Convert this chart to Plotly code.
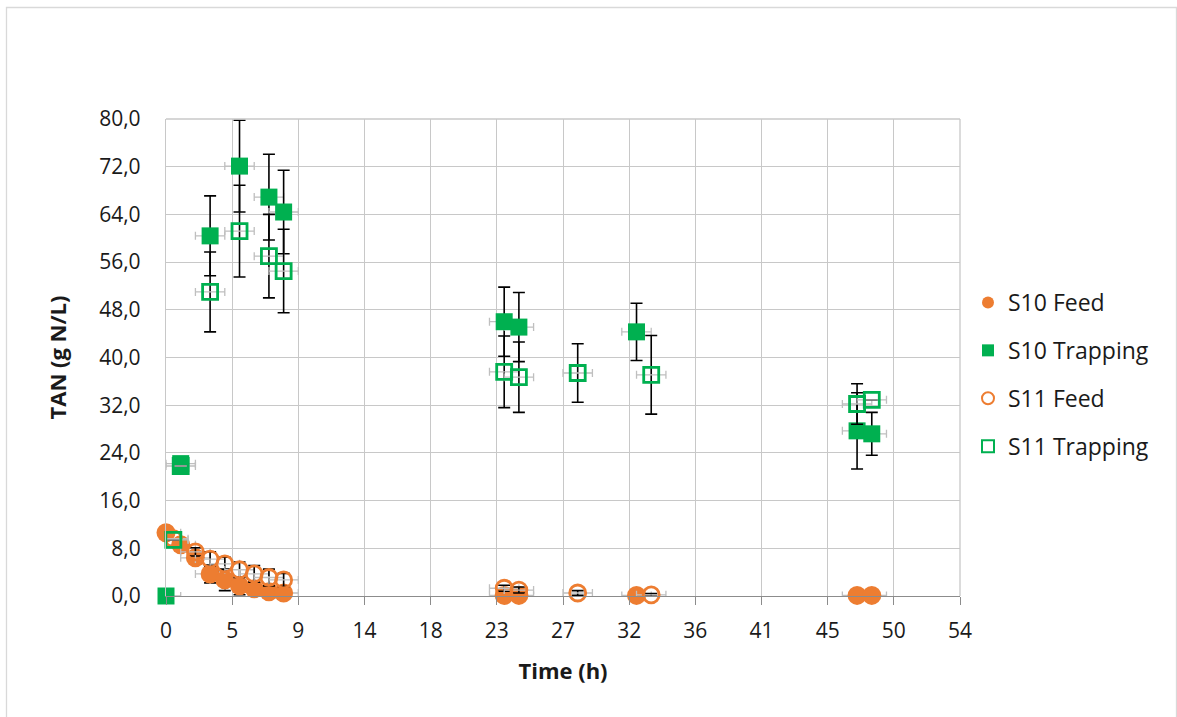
import plotly.graph_objects as go

# ---------------- data ----------------
s10_feed_t = [0, 1, 2, 3, 4, 5, 6, 7, 8, 23, 24, 32, 47, 48]
s10_feed_y = [10.6, 8.6, 6.4, 3.7, 2.7, 1.7, 1.2, 0.7, 0.5, 0.1, 0.1, 0.1, 0.1, 0.1]
s10_feed_e = [0.4, 0.4, 0.8, 1.5, 1.8, 1.5, 1.2, 0.8, 0.5, 0.2, 0.2, 0.1, 0.1, 0.1]

s10_trap_t = [0, 1, 3, 5, 7, 8, 23, 24, 32, 47, 48]
s10_trap_y = [0.0, 22.2, 60.4, 72.1, 66.9, 64.4, 46.0, 45.1, 44.3, 27.7, 27.2]
s10_trap_e = [0.0, 0.0, 6.7, 7.7, 7.2, 7.0, 5.8, 5.8, 4.8, 6.4, 3.6]

s11_feed_t = [0.5, 2, 3, 4, 5, 6, 7, 8, 23, 24, 28, 33]
s11_feed_y = [9.6, 7.4, 6.2, 5.4, 4.4, 3.7, 3.1, 2.7, 1.3, 1.0, 0.5, 0.2]
s11_feed_e = [0.0, 0.7, 1.2, 1.1, 1.3, 1.4, 1.4, 1.1, 0.5, 0.5, 0.4, 0.2]

s11_trap_t = [0.5, 1, 3, 5, 7, 8, 23, 24, 28, 33, 47, 48]
s11_trap_y = [9.4, 21.8, 51.0, 61.2, 57.0, 54.5, 37.6, 36.7, 37.4, 37.1, 32.2, 32.9]
s11_trap_e = [0.0, 0.0, 6.7, 7.7, 7.0, 7.0, 6.0, 5.9, 4.9, 6.6, 3.4, 0.0]

time_err = 1.0  # horizontal error (h)

x_tick_vals = [0, 4.5, 9, 13.5, 18, 22.5, 27, 31.5, 36, 40.5, 45, 49.5, 54]
x_tick_text = ["0", "5", "9", "14", "18", "23", "27", "32", "36", "41", "45", "50", "54"]
y_tick_vals = [0, 8, 16, 24, 32, 40, 48, 56, 64, 72, 80]

ORANGE = "#ED7D31"
GREEN = "#00B050"
FONT = "Open Sans"
TXT = "#1a1a1a"

W, H = 1177, 717
L, R, T, B = 166, 960, 119, 596  # plot area in px

fig = go.Figure()

def ex():
    return dict(type="constant", value=time_err, color="#BFBFBF", thickness=1.3, width=4)

def ey(vals):
    return dict(type="data", array=vals, color="black", thickness=1.6, width=6)

fig.add_trace(go.Scatter(
    x=s10_feed_t, y=s10_feed_y, mode="markers", name="S10 Feed", legendgroup="a",
    marker=dict(symbol="circle", size=19, color=ORANGE, line=dict(width=0)),
    error_x=ex(), error_y=ey(s10_feed_e), cliponaxis=False))
fig.add_trace(go.Scatter(
    x=s10_trap_t, y=s10_trap_y, mode="markers", name="S10 Trapping", legendgroup="b",
    marker=dict(symbol="square", size=17, color=GREEN, line=dict(width=0)),
    error_x=ex(), error_y=ey(s10_trap_e), cliponaxis=False))
fig.add_trace(go.Scatter(
    x=s11_feed_t, y=s11_feed_y, mode="markers", name="S11 Feed", legendgroup="c",
    marker=dict(symbol="circle-open", size=16, color=ORANGE, line=dict(width=2.8)),
    error_x=ex(), error_y=ey(s11_feed_e), cliponaxis=False))
fig.add_trace(go.Scatter(
    x=s11_trap_t, y=s11_trap_y, mode="markers", name="S11 Trapping", legendgroup="d",
    marker=dict(symbol="square-open", size=15, color=GREEN, line=dict(width=2.8)),
    error_x=ex(), error_y=ey(s11_trap_e), cliponaxis=False))

pw, ph = R - L, B - T
def px_x(p):
    return (p - L) / pw
def px_y(p):
    return (B - p) / ph

fig.update_layout(
    width=W, height=H,
    margin=dict(l=L, r=W - R, t=T, b=H - B),
    paper_bgcolor="white", plot_bgcolor="white",
    font=dict(family=FONT, size=21, color=TXT),
    separators=",.",
    showlegend=True,
    legend=dict(
        x=px_x(968), y=px_y(281), xanchor="left", yanchor="top",
        font=dict(family=FONT, size=23, color=TXT),
        tracegroupgap=15, itemsizing="constant", itemwidth=30, bgcolor="rgba(0,0,0,0)",
    ),
    xaxis=dict(
        range=[0, 54], tickmode="array", tickvals=x_tick_vals, ticktext=x_tick_text,
        showgrid=True, gridcolor="#C8C8C8", gridwidth=1.3,
        showline=True, linecolor="#8C8C8C", linewidth=1.3,
        ticks="outside", ticklen=8, tickcolor="#8C8C8C", tickwidth=1.3,
        ticklabelstandoff=8,
        zeroline=False, mirror=False,
        tickfont=dict(family=FONT, size=21, color=TXT),
        title=dict(text="<b>Time (h)</b>", font=dict(family=FONT, size=22, color=TXT), standoff=20),
    ),
    yaxis=dict(
        range=[0, 80], tickmode="array", tickvals=y_tick_vals, tickformat=".1f",
        showgrid=True, gridcolor="#C8C8C8", gridwidth=1.3,
        showline=True, linecolor="#C8C8C8", linewidth=1.3,
        ticks="", zeroline=False, ticklabelstandoff=20,
        tickfont=dict(family=FONT, size=21, color=TXT),
        title=dict(text="<b>TAN (g N/L)</b>", font=dict(family=FONT, size=22, color=TXT), standoff=26),
    ),
    shapes=[
        dict(type="rect", xref="paper", yref="paper",
             x0=px_x(6.5), x1=px_x(1176.5), y0=px_y(760), y1=px_y(7.5),
             line=dict(color="#D9D9D9", width=1.3), fillcolor="rgba(0,0,0,0)", layer="below"),
        dict(type="line", xref="paper", yref="paper", x0=0, x1=1, y0=1, y1=1,
             line=dict(color="#C8C8C8", width=1.3)),
        dict(type="line", xref="paper", yref="paper", x0=1, x1=1, y0=0, y1=1,
             line=dict(color="#C8C8C8", width=1.3)),
    ],
)

fig.write_html("out.html")
